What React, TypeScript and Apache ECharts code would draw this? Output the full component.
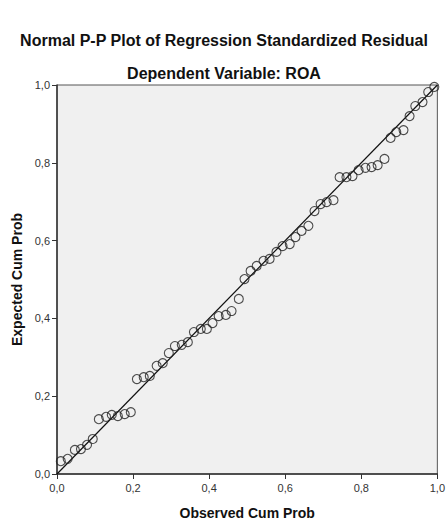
import React, { useEffect, useRef } from "react";
import * as echarts from "echarts";

const observedCumProb = [
  0.010, 0.028, 0.047, 0.063, 0.079, 0.094, 0.110, 0.129, 0.144, 0.160,
  0.178, 0.194, 0.210, 0.228, 0.244, 0.262, 0.278, 0.294, 0.310, 0.328,
  0.344, 0.360, 0.378, 0.394, 0.409, 0.425, 0.444, 0.459, 0.478, 0.493,
  0.509, 0.525, 0.543, 0.559, 0.577, 0.593, 0.612, 0.627, 0.643, 0.661,
  0.677, 0.693, 0.709, 0.727, 0.743, 0.761, 0.777, 0.793, 0.811, 0.827,
  0.843, 0.861, 0.877, 0.892, 0.911, 0.927, 0.942, 0.961, 0.976, 0.992,
];
const expectedCumProb = [
  0.033, 0.039, 0.062, 0.064, 0.075, 0.090, 0.141, 0.147, 0.152, 0.149,
  0.154, 0.159, 0.244, 0.249, 0.252, 0.278, 0.285, 0.311, 0.329, 0.332,
  0.339, 0.365, 0.373, 0.373, 0.388, 0.406, 0.409, 0.419, 0.450, 0.501,
  0.522, 0.535, 0.548, 0.553, 0.571, 0.586, 0.591, 0.609, 0.625, 0.638,
  0.676, 0.694, 0.699, 0.704, 0.763, 0.763, 0.766, 0.781, 0.787, 0.789,
  0.794, 0.810, 0.864, 0.879, 0.884, 0.920, 0.946, 0.956, 0.982, 0.995,
];
const referenceLine = [
  [0, 0],
  [1, 1],
];

const fmt = (v: number) => v.toFixed(1).replace(".", ",");

export default function App() {
  const ref = useRef<HTMLDivElement>(null);
  useEffect(() => {
    document.body.style.margin = "0";
    const chart = echarts.init(ref.current!, null, { renderer: "svg" });
    const font = "'Liberation Sans', Arial, sans-serif";
    chart.setOption({
      animation: false,
      backgroundColor: "#ffffff",
      title: [
        {
          text: "Normal P-P Plot of Regression Standardized Residual",
          left: "center",
          top: 27,
          textStyle: { fontFamily: font, fontSize: 16, fontWeight: "bold", color: "#111" },
        },
        {
          text: "Dependent Variable: ROA",
          left: "center",
          top: 60,
          textStyle: { fontFamily: font, fontSize: 16, fontWeight: "bold", color: "#111" },
        },
      ],
      grid: {
        left: 57,
        right: 10,
        top: 85,
        bottom: 51,
        show: true,
        backgroundColor: "#f0f0f0",
        borderColor: "#555",
        borderWidth: 1,
      },
      xAxis: {
        type: "value",
        min: 0,
        max: 1,
        interval: 0.2,
        name: "Observed Cum Prob",
        nameLocation: "middle",
        nameGap: 32,
        nameTextStyle: { fontFamily: font, fontSize: 14, fontWeight: "bold", color: "#111" },
        axisLine: { show: true, lineStyle: { color: "#333", width: 1.5 } },
        axisTick: { show: true, length: 5, lineStyle: { color: "#333" } },
        axisLabel: { formatter: fmt, fontFamily: font, fontSize: 11, color: "#333", margin: 8 },
        splitLine: { show: false },
      },
      yAxis: {
        type: "value",
        min: 0,
        max: 1,
        interval: 0.2,
        name: "Expected Cum Prob",
        nameLocation: "middle",
        nameGap: 28,
        nameRotate: 90,
        nameTextStyle: { fontFamily: font, fontSize: 14, fontWeight: "bold", color: "#111" },
        axisLine: { show: true, lineStyle: { color: "#333", width: 1.5 } },
        axisTick: { show: true, length: 5, lineStyle: { color: "#333" } },
        axisLabel: { formatter: fmt, fontFamily: font, fontSize: 11, color: "#333", margin: 7 },
        splitLine: { show: false },
      },
      series: [
        {
          type: "line",
          data: referenceLine,
          symbol: "none",
          lineStyle: { color: "#111", width: 1.2 },
          silent: true,
          z: 2,
        },
        {
          type: "scatter",
          data: observedCumProb.map((x, i) => [x, expectedCumProb[i]]),
          symbol: "circle",
          symbolSize: 9,
          itemStyle: { color: "rgba(0,0,0,0)", borderColor: "#222", borderWidth: 1.1 },
          z: 3,
        },
      ],
    });
    return () => chart.dispose();
  }, []);
  return <div ref={ref} style={{ width: 448, height: 525 }} />;
}
